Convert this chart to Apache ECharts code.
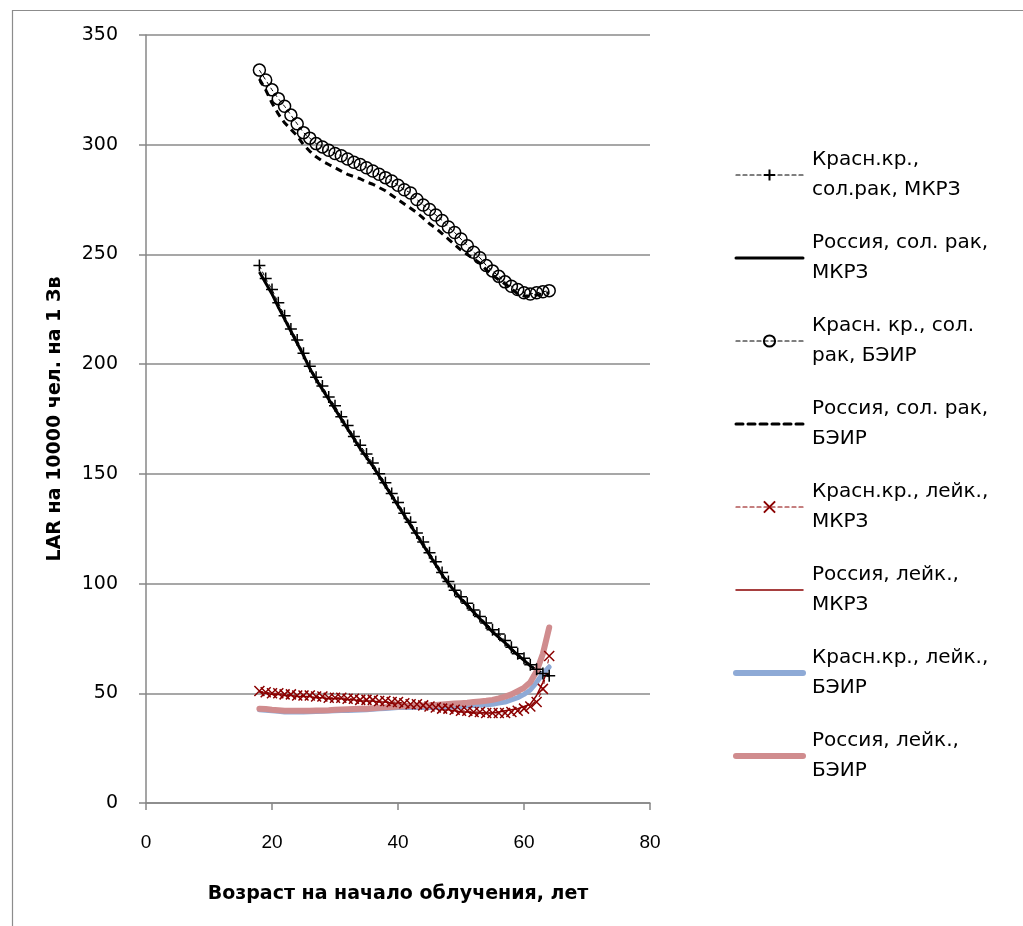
<!DOCTYPE html>
<html>
<head>
<meta charset="utf-8">
<title>LAR</title>
<script src="https://cdn.jsdelivr.net/npm/echarts@6/dist/echarts.min.js"></script>
<style>
  html, body { margin: 0; padding: 0; background: #fff; }
  #chart { width: 1023px; height: 926px; }
</style>
</head>
<body>
<div id="chart"></div>
<script>
// возраст на начало облучения
const ages = [18, 19, 20, 21, 22, 23, 24, 25, 26, 27, 28, 29, 30, 31, 32, 33, 34, 35, 36, 37, 38, 39, 40,
  41, 42, 43, 44, 45, 46, 47, 48, 49, 50, 51, 52, 53, 54, 55, 56, 57, 58, 59, 60, 61, 62, 63, 64];

// солидные раки
const krasSolMkrz = [245, 239, 234, 228, 222, 216, 211, 205, 199, 194, 190, 185, 181, 176, 172, 167, 163, 159, 155, 150, 146, 141, 137,
  132, 128, 123, 119, 114, 110, 105, 101, 97, 94, 91, 88, 85, 82, 79, 77, 74, 71, 68, 66, 63, 61, 59, 58];
const rusSolMkrz = [242, 237, 232, 226, 220.5, 215, 209.5, 204, 198, 193, 188.5, 184, 179.5, 175, 170.5, 166, 161.5, 157.5, 153.5, 149, 144.5, 140, 135.5,
  131, 126.5, 122, 117.5, 113, 108.5, 104, 100, 96.5, 93, 90, 87, 84, 81, 78, 75.5, 73, 70, 67.5, 65, 62.5, 60.5, 59, 58];
const krasSolBeir = [334, 329.5, 325, 321, 317.5, 313.5, 309.5, 305.5, 303, 300.5, 299, 297.5, 296, 295, 293.5, 292, 291, 289.5, 288, 286.5, 285, 283.5, 281.5,
  279.5, 278, 275, 272.5, 270.5, 268, 265.5, 262.5, 260, 257, 254, 251, 248.5, 245, 242.5, 240, 237.5, 235.5, 234, 232.5, 232, 232.5, 233, 233.5];
const rusSolBeir = [330, 325, 319, 314, 310, 307, 304, 300, 297, 294.5, 292.5, 291, 289.5, 288, 286.5, 285.5, 284.5, 283, 282, 280.5, 279, 277, 275,
  273, 271, 269, 266.5, 264, 262, 259.5, 257, 254.5, 252, 250, 248, 246, 243, 240.5, 238.5, 236.5, 234.5, 232, 231, 231, 231.5, 232, 232.5];

// лейкозы
const krasLeikMkrz = [51, 50.5, 50, 50, 49.5, 49.5, 49, 49, 49, 48.5, 48.5, 48, 48, 48, 47.5, 47.5, 47, 47, 47, 46.5, 46.5, 46, 46,
  45.5, 45, 45, 44.5, 44, 43.5, 43, 43, 42.5, 42, 42, 41.5, 41.5, 41, 41, 41, 41, 41.5, 42, 43, 44, 46, 52, 67];
const rusLeikMkrz = [50.5, 50, 49.5, 49.5, 49, 49, 48.5, 48.5, 48.5, 48, 48, 47.5, 47.5, 47.5, 47, 47, 46.5, 46.5, 46.5, 46, 46, 45.5, 45.5,
  45, 44.5, 44.5, 44, 43.5, 43, 42.5, 42.5, 42, 41.5, 41.5, 41, 41, 41, 41, 41.5, 42, 42.5, 43, 44, 45, 49, 55, 63];
const krasLeikBeir = [42.5, 42.3, 42, 41.8, 41.5, 41.5, 41.5, 41.5, 41.6, 41.7, 41.8, 41.9, 42, 42.1, 42.2, 42.3, 42.4, 42.5, 42.7, 42.9, 43.1, 43.3, 43.5,
  43.5, 43.5, 43.5, 43.5, 43.5, 43.6, 43.7, 43.8, 43.9, 44, 44.2, 44.4, 44.6, 44.8, 45, 45.5, 46, 47, 48, 49.5, 51.5, 55, 59, 62];
const rusLeikBeir = [43, 42.8, 42.5, 42.3, 42, 42, 42, 42, 42, 42.1, 42.2, 42.3, 42.5, 42.6, 42.7, 42.8, 42.9, 43, 43.2, 43.4, 43.6, 43.8, 44,
  44.1, 44.2, 44.3, 44.4, 44.5, 44.7, 44.9, 45.1, 45.3, 45.5, 45.7, 46, 46.3, 46.6, 47, 47.7, 48.5, 49.5, 51, 52.5, 55, 60, 68, 80];

const xTicks = [0, 20, 40, 60, 80];
const yTicks = [0, 50, 100, 150, 200, 250, 300, 350];

const seriesNames = [
  'Красн.кр.,\nсол.рак, МКРЗ',
  'Россия, сол. рак,\nМКРЗ',
  'Красн. кр., сол.\nрак, БЭИР',
  'Россия, сол. рак,\nБЭИР',
  'Красн.кр., лейк.,\nМКРЗ',
  'Россия, лейк.,\nМКРЗ',
  'Красн.кр., лейк.,\nБЭИР',
  'Россия, лейк.,\nБЭИР'
];

const PLUS = 'path://M5,0L5,10M0,5L10,5';
const CROSS = 'path://M0,0L10,10M10,0L0,10';

function pairs(values) {
  return ages.map((a, i) => [a, values[i]]);
}

// в легенде у линий без маркеров прячем кружок
function legendItem(name, width, noMarker) {
  const item = { name: name, lineStyle: { width: width, cap: 'round' } };
  if (noMarker) item.itemStyle = { opacity: 0 };
  return item;
}

const chart = echarts.init(document.getElementById('chart'));

const option = {
  animation: false,
  textStyle: { fontFamily: 'DejaVu Sans' },
  graphic: [{
    type: 'rect',
    left: 10,
    top: 8,
    shape: { width: 1100, height: 1000 },
    style: { fill: 'none', stroke: '#8c8c8c', lineWidth: 1.2 },
    silent: true
  }],
  grid: { left: 146, right: 373, top: 35, bottom: 123 },
  legend: {
    left: 728,
    top: 125,
    orient: 'vertical',
    itemWidth: 67,
    itemHeight: 14,
    itemGap: -7,
    textStyle: {
      fontFamily: 'DejaVu Sans',
      fontSize: 20,
      color: '#000',
      lineHeight: 30,
      padding: [30, 0, 0, 4]
    },
    data: [
      legendItem(seriesNames[0], 1.2, false),
      legendItem(seriesNames[1], 3, true),
      legendItem(seriesNames[2], 1.2, false),
      legendItem(seriesNames[3], 3, true),
      legendItem(seriesNames[4], 1.2, false),
      legendItem(seriesNames[5], 1.5, true),
      legendItem(seriesNames[6], 6, true),
      legendItem(seriesNames[7], 6, true)
    ]
  },
  xAxis: {
    type: 'value',
    min: 0,
    max: 80,
    interval: 20,
    name: 'Возраст на начало облучения, лет',
    nameLocation: 'middle',
    nameGap: 82,
    nameTextStyle: { fontFamily: 'DejaVu Sans', fontWeight: 'bold', fontSize: 19, color: '#000' },
    axisLine: { lineStyle: { color: '#878787', width: 1.5 } },
    axisTick: { show: true, length: 7, lineStyle: { color: '#878787', width: 1.5 } },
    axisLabel: {
      margin: 30,
      fontFamily: 'Liberation Sans',
      fontSize: 19,
      color: '#000',
      formatter: (v) => (xTicks.includes(v) ? String(v) : '')
    },
    splitLine: { show: false }
  },
  yAxis: {
    type: 'value',
    min: 0,
    max: 350,
    interval: 50,
    name: 'LAR на 10000 чел. на 1 Зв',
    nameLocation: 'middle',
    nameGap: 81,
    nameRotate: 90,
    nameTextStyle: { fontFamily: 'DejaVu Sans', fontWeight: 'bold', fontSize: 19, color: '#000' },
    axisLine: { show: true, lineStyle: { color: '#878787', width: 1.5 } },
    axisTick: { show: true, length: 7, lineStyle: { color: '#878787', width: 1.5 } },
    axisLabel: {
      margin: 28,
      fontFamily: 'DejaVu Sans',
      fontSize: 19,
      color: '#000',
      formatter: (v) => (yTicks.includes(v) ? String(v) : '')
    },
    splitLine: { show: true, lineStyle: { color: '#8a8a8a', width: 1.5 } }
  },
  series: [
    {
      name: seriesNames[0],
      type: 'line',
      data: pairs(krasSolMkrz),
      symbol: PLUS,
      symbolSize: 12,
      itemStyle: { color: '#000', borderColor: '#000', borderWidth: 1.5 },
      lineStyle: { color: '#000', width: 1, type: [4, 3] }
    },
    {
      name: seriesNames[1],
      type: 'line',
      data: pairs(rusSolMkrz),
      symbol: 'none',
      itemStyle: { color: '#000' },
      lineStyle: { color: '#000', width: 3 }
    },
    {
      name: seriesNames[2],
      type: 'line',
      data: pairs(krasSolBeir),
      symbol: 'circle',
      symbolSize: 12,
      itemStyle: { color: 'rgba(0,0,0,0)', borderColor: '#000', borderWidth: 1.5 },
      lineStyle: { color: '#000', width: 1, type: [4, 3] }
    },
    {
      name: seriesNames[3],
      type: 'line',
      data: pairs(rusSolBeir),
      symbol: 'none',
      itemStyle: { color: '#000' },
      lineStyle: { color: '#000', width: 3, type: [7, 5] }
    },
    {
      name: seriesNames[4],
      type: 'line',
      data: pairs(krasLeikMkrz),
      symbol: CROSS,
      symbolSize: 10,
      itemStyle: { color: '#8b0000', borderColor: '#8b0000', borderWidth: 1.5 },
      lineStyle: { color: '#8b0000', width: 1, type: [4, 3] }
    },
    {
      name: seriesNames[5],
      type: 'line',
      data: pairs(rusLeikMkrz),
      symbol: 'none',
      itemStyle: { color: '#8b0000' },
      lineStyle: { color: '#8b0000', width: 1.5 }
    },
    {
      name: seriesNames[6],
      type: 'line',
      data: pairs(krasLeikBeir),
      symbol: 'none',
      itemStyle: { color: '#8eaad6' },
      lineStyle: { color: '#8eaad6', width: 5, cap: 'round' }
    },
    {
      name: seriesNames[7],
      type: 'line',
      data: pairs(rusLeikBeir),
      symbol: 'none',
      itemStyle: { color: '#d08c8e' },
      lineStyle: { color: '#d08c8e', width: 6, cap: 'round' }
    }
  ]
};

chart.setOption(option);
</script>
</body>
</html>
